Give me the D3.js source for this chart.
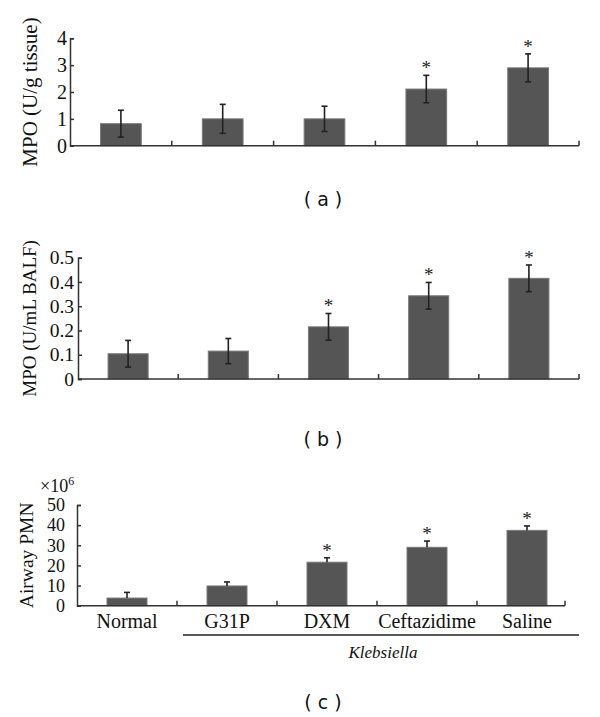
<!DOCTYPE html>
<html><head><meta charset="utf-8">
<script src="https://cdn.jsdelivr.net/npm/d3@7"></script>
<style>body{margin:0;background:#fff}svg{display:block}</style>
</head><body>
<svg id="c" width="600" height="717"></svg>
<script>
const categories = ["Normal","G31P","DXM","Ceftazidime","Saline"];
const mpoTissue = [0.82, 1.0, 1.0, 2.11, 2.9];
const mpoTissueErr = [0.5, 0.54, 0.47, 0.51, 0.52];
const mpoTissueSig = [false, false, false, true, true];
const mpoBalf = [0.104, 0.115, 0.215, 0.343, 0.415];
const mpoBalfErr = [0.055, 0.052, 0.055, 0.055, 0.055];
const mpoBalfSig = [false, false, true, true, true];
const pmn = [3.8, 9.8, 21.6, 29.0, 37.4];
const pmnErr = [2.8, 2.0, 2.2, 3.1, 2.2];
const pmnSig = [false, false, true, true, true];
const ticksA = [0,1,2,3,4];
const ticksB = [0,0.1,0.2,0.3,0.4,0.5];
const ticksC = [0,10,20,30,40,50];

const svg = d3.select("#c");
const serif = "'Liberation Serif','Times New Roman',serif";
const sans = "'DejaVu Sans',Verdana,sans-serif";

function panel(o){
  const g = svg.append("g");
  const x = d3.scaleBand().domain(categories).range([o.x0, o.x1]).padding(0);
  const y = d3.scaleLinear().domain(o.domain).range([o.yz, o.yt]);
  const bw = x.bandwidth();
  const axisEnd = o.axisEnd || o.x1;
  g.selectAll("rect.bar").data(o.vals).join("rect")
    .attr("x",(d,i)=>x(categories[i])+bw*0.3)
    .attr("width",bw*0.4)
    .attr("y",d=>y(d)).attr("height",d=>y(0)-y(d))
    .attr("fill","#555").attr("stroke","#7a7a7a").attr("stroke-width",1);
  o.vals.forEach((v,i)=>{
    const cx = x(categories[i])+bw/2;
    const top = y(v+o.errs[i]);
    const bot = o.upperOnly ? y(v) : y(v-o.errs[i]);
    g.append("line").attr("x1",cx).attr("x2",cx).attr("y1",top).attr("y2",bot)
      .attr("stroke","#222").attr("stroke-width",1.6);
    g.append("line").attr("x1",cx-3).attr("x2",cx+3).attr("y1",top).attr("y2",top)
      .attr("stroke","#222").attr("stroke-width",1.6);
    if(!o.upperOnly) g.append("line").attr("x1",cx-3).attr("x2",cx+3).attr("y1",bot).attr("y2",bot)
      .attr("stroke","#222").attr("stroke-width",1.6);
    if(o.sig[i]) g.append("text").attr("x",cx).attr("y",top-1).attr("text-anchor","middle")
      .attr("font-family",serif).attr("font-size",19).attr("fill","#222").text("*");
  });
  const yax = g.append("g").attr("transform",`translate(${o.x0},0)`)
    .call(d3.axisLeft(y).tickValues(o.ticks).tickSize(-4).tickPadding(o.tickPad).tickFormat(o.fmt));
  yax.attr("font-family",serif);
  yax.select(".domain").attr("stroke","#333").attr("stroke-width",1.5);
  yax.selectAll(".tick line").attr("stroke","#333").attr("stroke-width",1.5);
  yax.selectAll("text").attr("font-family",serif).attr("font-size",o.tickFs).attr("fill","#111");
  g.append("line").attr("x1",o.x0).attr("x2",axisEnd).attr("y1",o.yz).attr("y2",o.yz)
    .attr("stroke","#333").attr("stroke-width",1.5);
  const bounds = categories.slice(1).map(c=>x(c)).concat([axisEnd]);
  g.selectAll("line.xt").data(bounds).join("line")
    .attr("x1",d=>d).attr("x2",d=>d).attr("y1",o.yz).attr("y2",o.yz-5)
    .attr("stroke","#333").attr("stroke-width",1.5);
  g.append("text").attr("transform",`translate(${o.labX},${(o.yz+o.yt)/2}) rotate(-90)`)
    .attr("text-anchor","middle").attr("font-family",serif).attr("font-size",o.labFs)
    .attr("fill","#111").text(o.label);
  g.append("text").attr("x",323).attr("y",o.tagY).attr("text-anchor","middle")
    .attr("font-family",sans).attr("font-size",19).attr("fill","#111")
    .attr("xml:space","preserve").style("white-space","pre").text(o.tag);
  return {g,x,y};
}

panel({x0:70,x1:579,yz:145.7,yt:38.3,domain:[0,4],vals:mpoTissue,errs:mpoTissueErr,sig:mpoTissueSig,
  ticks:ticksA,fmt:d3.format("d"),tickPad:3,tickFs:20,label:"MPO (U/g tissue)",labX:37,labFs:21,tag:"( a )",tagY:206});
panel({x0:78,x1:579,yz:379,yt:257.7,domain:[0,0.5],vals:mpoBalf,errs:mpoBalfErr,sig:mpoBalfSig,
  ticks:ticksB,fmt:d=>d===0?"0":d3.format(".1f")(d),tickPad:4,tickFs:19.5,label:"MPO (U/mL BALF)",labX:36,labFs:19,tag:"( b )",tagY:446});
const pc = panel({x0:77,x1:577,axisEnd:565,yz:605.7,yt:505,domain:[0,50],vals:pmn,errs:pmnErr,sig:pmnSig,upperOnly:true,
  ticks:ticksC,fmt:d3.format("d"),tickPad:12,tickFs:18,label:"Airway PMN",labX:33,labFs:19.5,tag:"( c )",tagY:709});

svg.selectAll("text.cat").data(categories).join("text")
  .attr("x",d=>pc.x(d)+pc.x.bandwidth()/2).attr("y",628).attr("text-anchor","middle")
  .attr("font-family",serif).attr("font-size",20).attr("fill","#111").text(d=>d);
svg.append("line").attr("x1",183).attr("x2",579).attr("y1",635).attr("y2",635)
  .attr("stroke","#222").attr("stroke-width",1.5);
svg.append("text").attr("x",383).attr("y",658).attr("text-anchor","middle")
  .attr("font-family",serif).attr("font-style","italic").attr("font-size",17).attr("fill","#111").text("Klebsiella");
const mult = svg.append("text").attr("x",40).attr("y",492).attr("font-family",serif).attr("font-size",18).attr("fill","#111");
mult.append("tspan").text("×10");
mult.append("tspan").attr("dy",-7).attr("font-size",12).text("6");
</script>
</body></html>
